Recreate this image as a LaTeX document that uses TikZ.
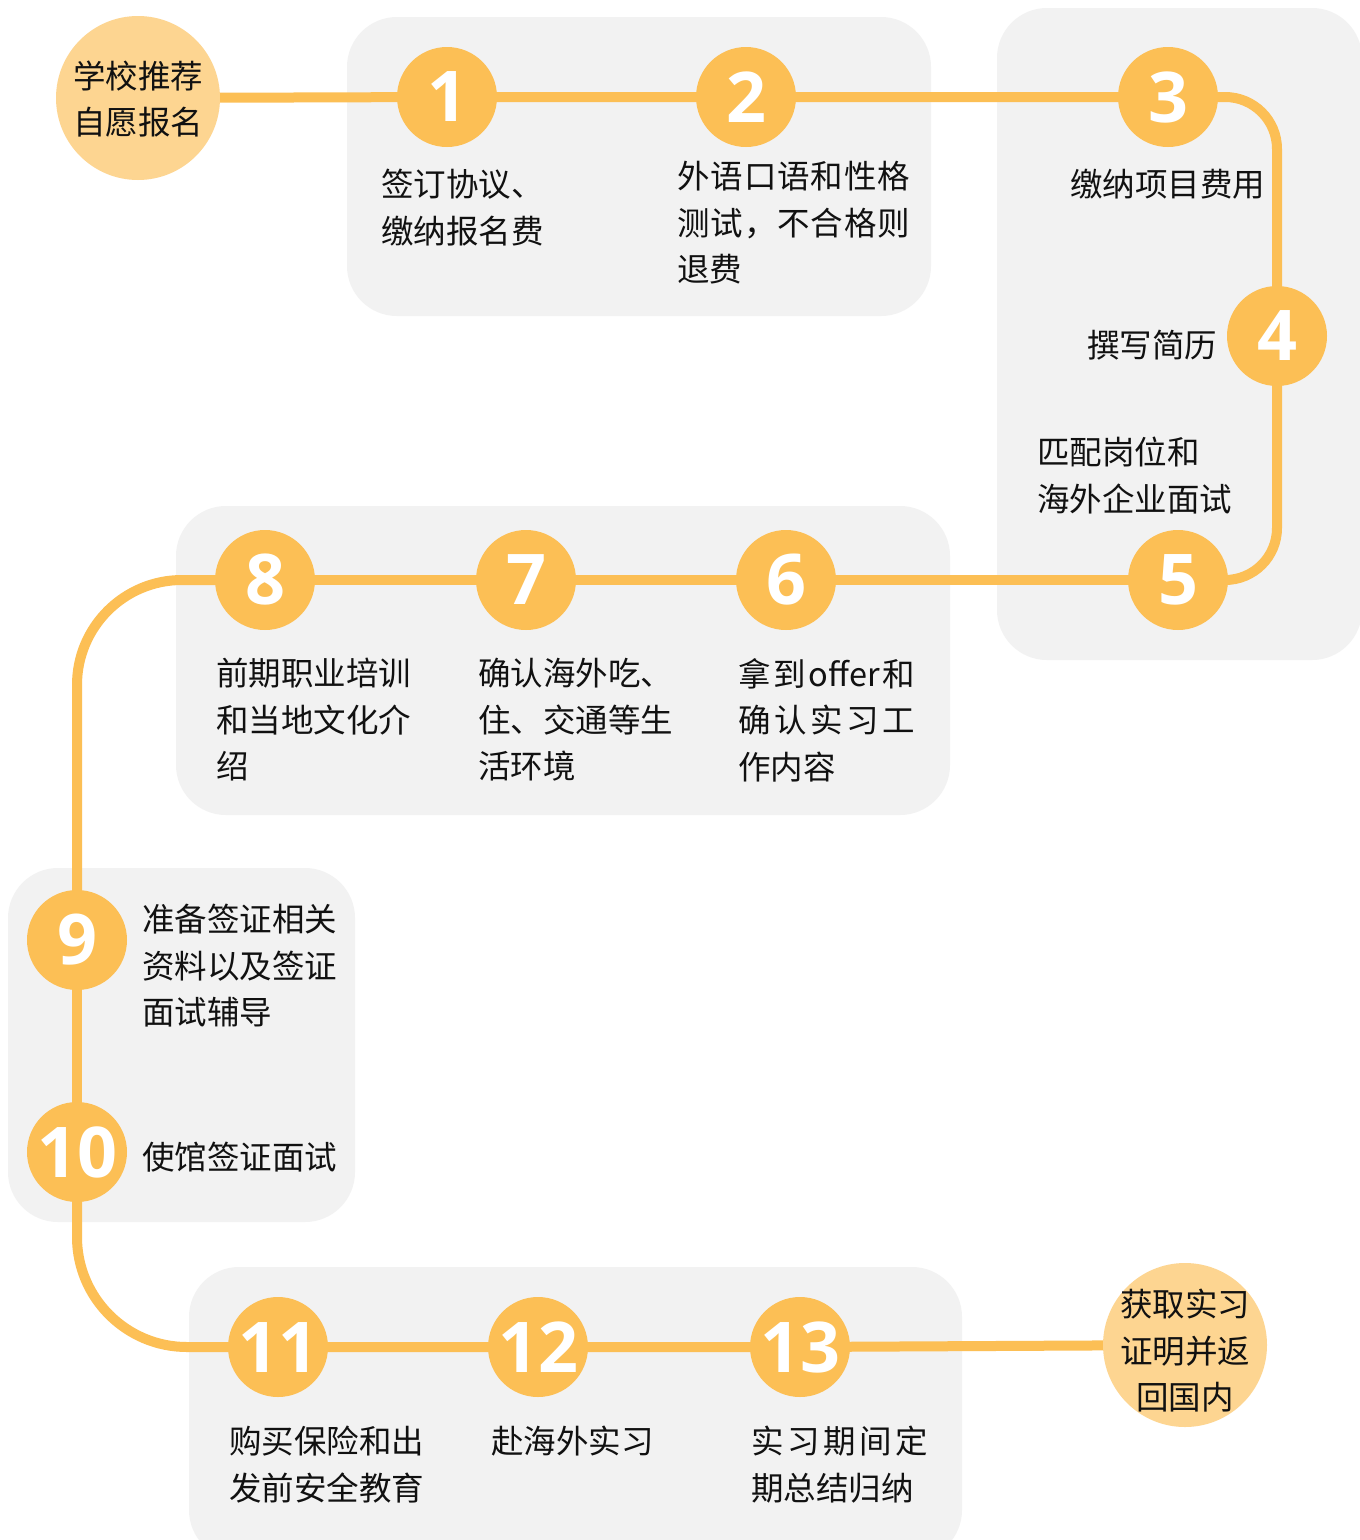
\documentclass[tikz,border=0pt]{standalone}
\usepackage{fontspec}
\newfontfamily\cjk{Noto Sans CJK SC}
\newfontfamily\numf{Open Sans}
\definecolor{accent}{HTML}{FCBF55}
\definecolor{light}{HTML}{FDD591}
\definecolor{boxgray}{HTML}{F2F2F2}
\definecolor{ink}{HTML}{111111}
\pgfdeclarelayer{bg}
\pgfdeclarelayer{ln}
\pgfsetlayers{bg,ln,main}
\newcommand\lowr[2]{\raisebox{-#1}[\height][\depth]{#2}}
\begin{document}
\begin{tikzpicture}[x=1pt,y=-1pt,
  num/.style={circle, fill=accent, minimum size=100pt, inner sep=0pt, text=white,
    font=\numf\bfseries\fontsize{70pt}{70pt}\selectfont},
  endpt/.style={circle, fill=light, minimum size=164pt, align=center,
    text=ink, font=\cjk\fontsize{32.5pt}{46.5pt}\selectfont},
  lbl/.style={anchor=north west, inner sep=0pt, align=left, text=ink,
    font=\cjk\fontsize{32.5pt}{46.5pt}\selectfont},
  conn/.style={draw=accent, line width=10pt},
  panel/.style={fill=boxgray, rounded corners=50pt}]
\useasboundingbox (0,0) rectangle (1360,1540);

% panels
\begin{pgfonlayer}{bg}
\fill[white] (0,0) rectangle (1360,1540);
\fill[panel] (347,17) rectangle (931,316);
\fill[panel] (997,8) rectangle (1362,660);
\fill[panel] (176,506) rectangle (950,815);
\fill[panel] (8,868) rectangle (355,1222);
\fill[panel] (189,1267) rectangle (962,1560);
\end{pgfonlayer}

% circles
\node[endpt, inner sep=0pt] (start) at (138,98) {\lowr{1pt}{学校推荐}\\\lowr{1pt}{自愿报名}};
\node[num] (n1) at (447,97) {1};
\node[num] (n2) at (746,97) {2};
\node[num] (n3) at (1168,97) {3};
\node[num] (n4) at (1277,336) {4};
\node[num] (n5) at (1178,580) {5};
\node[num] (n6) at (786,580) {6};
\node[num] (n7) at (526,580) {7};
\node[num] (n8) at (265,580) {8};
\node[num] (n9) at (77,940) {9};
\node[num] (n10) at (77,1152) {10};
\node[num] (n11) at (278,1347) {11};
\node[num] (n12) at (538,1347) {12};
\node[num] (n13) at (800,1347) {13};
\node[endpt, inner sep=-7pt] (finish) at (1185,1345) {\lowr{6pt}{获取实习}\\\lowr{6pt}{证明并返}\\\lowr{6pt}{回国内}};

% connectors
\begin{pgfonlayer}{ln}
\draw[conn] (start.center) -- (n1.center) -- (n2.center) -- (n3.center);
\draw[conn, rounded corners=52pt] (n3.center) -| (n4.center);
\draw[conn, rounded corners=52pt] (n4.center) |- (n5.center);
\draw[conn] (n5.center) -- (n6.center) -- (n7.center) -- (n8.center);
\draw[conn, rounded corners=105pt] (n8.center) -| (n9.center);
\draw[conn] (n9.center) -- (n10.center);
\draw[conn, rounded corners=110pt] (n10.center) |- (n11.center);
\draw[conn] (n11.center) -- (n12.center) -- (n13.center) -- (finish.center);
\end{pgfonlayer}

% labels
\node[lbl] (t1) at (381,169) {签订协议、\\缴纳报名费};
\node[lbl] (t2) at (677,161) {\makebox[233pt][s]{外\hfill 语\hfill 口\hfill 语\hfill 和\hfill 性\hfill 格}\\\makebox[233pt][s]{测\hfill 试\hfill ，\hfill 不\hfill 合\hfill 格\hfill 则}\\退费};
\node[lbl] (t3) at (1070,169) {缴纳项目费用};
\node[lbl] (t4) at (1087,330) {撰写简历};
\node[lbl] (t5) at (1037,437) {匹配岗位和\\海外企业面试};
\node[lbl] (t8) at (216,658) {前期职业培训\\和当地文化介\\绍};
\node[lbl] (t7) at (478,658) {确认海外吃、\\住、交通等生\\活环境};
\node[lbl] (t6) at (738,658) {\makebox[177pt][s]{拿\hfill 到\hfill offer\hfill 和}\\\makebox[177pt][s]{确\hfill 认\hfill 实\hfill 习\hfill 工}\\作内容};
\node[lbl] (t9) at (142,904) {准备签证相关\\资料以及签证\\面试辅导};
\node[lbl] (t10) at (142,1142) {使馆签证面试};
\node[lbl] (t11) at (229,1426) {购买保险和出\\发前安全教育};
\node[lbl] (t12) at (491,1426) {赴海外实习};
\node[lbl] (t13) at (751,1426) {\makebox[177pt][s]{实\hfill 习\hfill 期\hfill 间\hfill 定}\\期总结归纳};
\end{tikzpicture}
\end{document}
